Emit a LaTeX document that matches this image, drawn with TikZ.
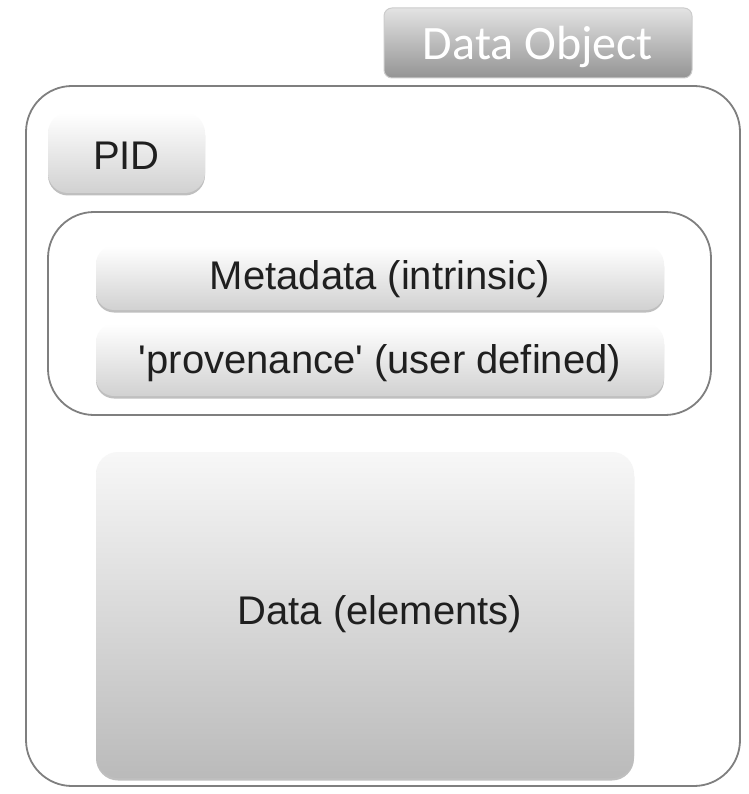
\documentclass[tikz,border=0pt]{standalone}
\usepackage{fontspec}
\setmainfont{Liberation Sans}
\newfontfamily\calib{Carlito}
\usetikzlibrary{shadows}
\definecolor{framegray}{HTML}{7F7F7F}
\tikzset{
  frame/.style={draw=framegray, line width=1.8pt, fill=white},
  pill/.style={draw=none, top color=#1, bottom color=black!18, rounded corners=18pt,
    drop shadow={shadow xshift=0pt, shadow yshift=-2.5pt, opacity=0.25, fill=black},
    font=\fontsize{40}{44}\selectfont, text=black!88},
  pill/.default={white},
}
\begin{document}
\begin{tikzpicture}[x=1pt,y=-1pt]
\useasboundingbox (0,0) rectangle (748,794);
% outer frame
\draw[frame, rounded corners=46pt] (26,86) rectangle (740,786);
% title
\node[draw=black!20, line width=1pt, top color=black!11, bottom color=black!42,
      rounded corners=8pt, minimum width=308pt, minimum height=70pt] (title) at (538,43) {};
\node[font=\calib\fontsize{48}{50}\selectfont, text=white] (titletext) at (538,47) {Data Object};
% PID
\node[pill, minimum width=157pt, minimum height=80pt, rounded corners=20pt] (pid) at (126.5,153) {};
\node[font=\fontsize{40}{44}\selectfont, text=black!88] (pidtext) at (126.5,156) {PID};
% inner frame
\draw[frame, rounded corners=46pt] (48,212) rectangle (711,415);
\node[pill, minimum width=568pt, minimum height=64pt] (meta) at (380,278) {};
\node[font=\fontsize{40}{44}\selectfont, text=black!88] (metatext) at (380,279) {Metadata (intrinsic)};
\node[pill, minimum width=568pt, minimum height=72pt] (prov) at (380,360) {};
\node[font=\fontsize{40}{44}\selectfont, text=black!88] (provtext) at (380,363) {\textquotesingle provenance\textquotesingle\ (user defined)};
% data
\node[pill=black!3, bottom color=black!27, minimum width=538pt, minimum height=326pt, rounded corners=22pt] (data) at (365,615) {};
\node[font=\fontsize{40}{44}\selectfont, text=black!88] (datatext) at (380,614) {Data (elements)};
\end{tikzpicture}
\end{document}
